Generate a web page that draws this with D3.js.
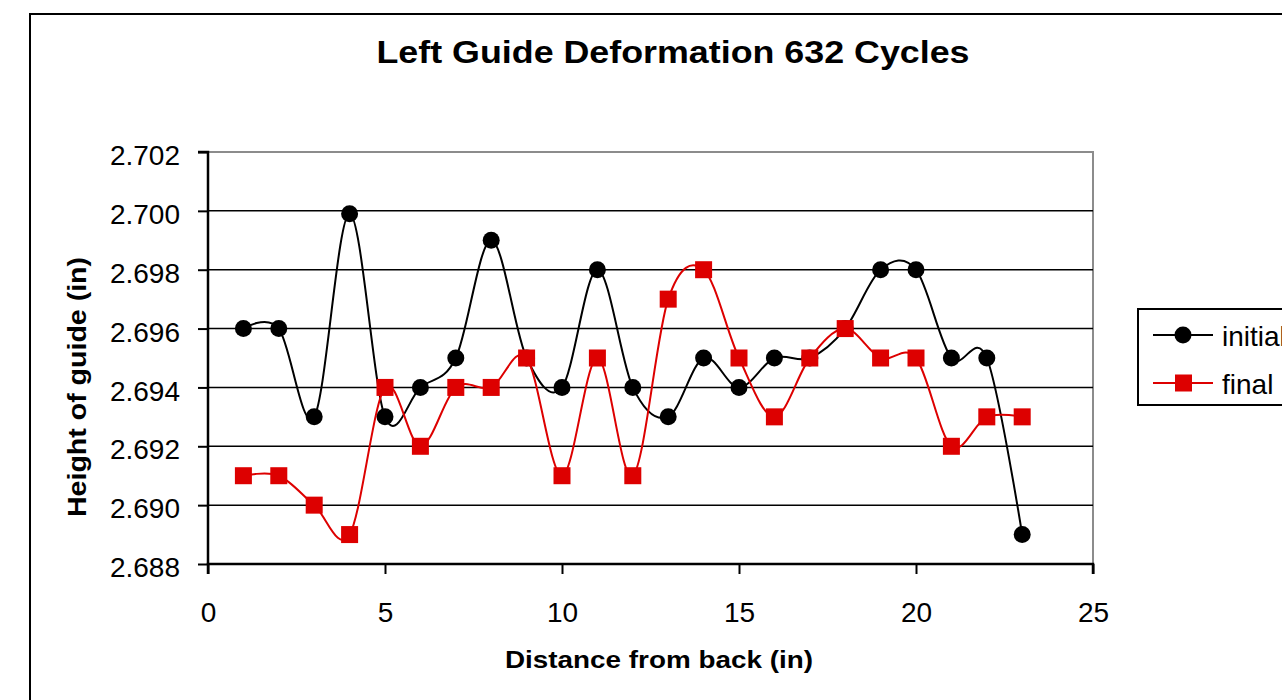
<!DOCTYPE html>
<html>
<head>
<meta charset="UTF-8">
<title>Left Guide Deformation</title>
<style>
  body { margin: 0; background: #fff; }
  svg { display: block; font-family: Arial, "Liberation Sans", sans-serif; }
</style>
</head>
<body>
<script src="https://d3js.org/d3.v7.min.js"></script>
<script>
  // distance from back (in)
  var positions = [1, 2, 3, 4, 5, 6, 7, 8, 9, 10, 11, 12, 13, 14, 15, 16, 17, 18, 19, 20, 21, 22, 23];
  var initial = [2.696, 2.696, 2.693, 2.6999, 2.693, 2.694, 2.695, 2.699, 2.695, 2.694, 2.698, 2.694,
                 2.693, 2.695, 2.694, 2.695, 2.695, 2.696, 2.698, 2.698, 2.695, 2.695, 2.689];
  var finalVals = [2.691, 2.691, 2.690, 2.689, 2.694, 2.692, 2.694, 2.694, 2.695, 2.691, 2.695, 2.691,
                   2.697, 2.698, 2.695, 2.693, 2.695, 2.696, 2.695, 2.695, 2.692, 2.693, 2.693];
  var xTicks = [0, 5, 10, 15, 20, 25];
  var yTicks = [2.688, 2.690, 2.692, 2.694, 2.696, 2.698, 2.700, 2.702];
  var seriesNames = ["initial", "final"];
  var seriesColors = ["#000000", "#dd0000"];

  var W = 1282, H = 700;
  var svg = d3.select('body').append('svg')
    .attr('width', W)
    .attr('height', H);

  // outer chart frame
  svg.append('rect')
    .attr('x', 30).attr('y', 14)
    .attr('width', 1300).attr('height', 720)
    .attr('fill', '#fff')
    .attr('stroke', '#000')
    .attr('stroke-width', 2);

  var pLeft = 208, pRight = 1093, pTop = 152, pBottom = 564;

  var x = d3.scaleLinear().domain([0, 25]).range([pLeft, pRight]);
  var y = d3.scaleLinear().domain([2.688, 2.702]).range([pBottom, pTop]);

  // plot area border (grey top/right)
  svg.append('rect')
    .attr('x', pLeft).attr('y', pTop)
    .attr('width', pRight - pLeft).attr('height', pBottom - pTop)
    .attr('fill', 'none')
    .attr('stroke', '#8c8c8c')
    .attr('stroke-width', 2);

  // gridlines
  svg.append('g')
    .selectAll('line')
    .data(yTicks.slice(1, -1))
    .enter()
    .append('line')
    .attr('x1', pLeft).attr('x2', pRight)
    .attr('y1', function(d) { return y(d); })
    .attr('y2', function(d) { return y(d); })
    .attr('stroke', '#000')
    .attr('stroke-width', 1.5);

  // axes
  var yAxis = svg.append('g')
    .attr('transform', 'translate(' + pLeft + ',0)')
    .call(d3.axisLeft(y).tickValues(yTicks).tickFormat(d3.format('.3f')).tickSize(10).tickPadding(18));
  var xAxis = svg.append('g')
    .attr('transform', 'translate(0,' + pBottom + ')')
    .call(d3.axisBottom(x).tickValues(xTicks).tickSize(10).tickPadding(28));

  [yAxis, xAxis].forEach(function(a) {
    a.select('.domain').attr('stroke', '#000').attr('stroke-width', 2.5);
    a.selectAll('.tick line').attr('stroke', '#000').attr('stroke-width', 2);
    a.selectAll('.tick text')
      .attr('fill', '#000')
      .style('font-size', '28px')
      .style('font-family', 'Arial, "Liberation Sans", sans-serif');
  });
  yAxis.select('.domain').attr('d', 'M-10,' + pTop + 'H0V' + pBottom);
  xAxis.select('.domain').attr('d', 'M' + pLeft + ',10V0H' + pRight + 'V10');
  yAxis.selectAll('.tick text').attr('dy', '0.45em');

  // series
  var line = d3.line()
    .x(function(d) { return x(d[0]); })
    .y(function(d) { return y(d[1]); })
    .curve(d3.curveCardinal.tension(0));

  var seriesData = [initial, finalVals].map(function(vals) {
    return positions.map(function(p, i) { return [p, vals[i]]; });
  });

  seriesData.forEach(function(data, s) {
    svg.append('path')
      .datum(data)
      .attr('d', line)
      .attr('fill', 'none')
      .attr('stroke', seriesColors[s])
      .attr('stroke-width', 2);
  });

  // markers
  svg.append('g')
    .selectAll('circle')
    .data(seriesData[0])
    .enter()
    .append('circle')
    .attr('cx', function(d) { return x(d[0]); })
    .attr('cy', function(d) { return y(d[1]); })
    .attr('r', 8.5)
    .attr('fill', seriesColors[0]);

  svg.append('g')
    .selectAll('rect')
    .data(seriesData[1])
    .enter()
    .append('rect')
    .attr('x', function(d) { return x(d[0]) - 8.5; })
    .attr('y', function(d) { return y(d[1]) - 8.5; })
    .attr('width', 17)
    .attr('height', 17)
    .attr('fill', seriesColors[1]);

  // title
  svg.append('text')
    .attr('x', 673).attr('y', 63)
    .attr('text-anchor', 'middle')
    .attr('textLength', 593)
    .attr('lengthAdjust', 'spacingAndGlyphs')
    .style('font-size', '32px')
    .style('font-weight', 'bold')
    .text('Left Guide Deformation 632 Cycles');

  // axis titles
  svg.append('text')
    .attr('x', 659).attr('y', 668)
    .attr('text-anchor', 'middle')
    .attr('textLength', 308)
    .attr('lengthAdjust', 'spacingAndGlyphs')
    .style('font-size', '24px')
    .style('font-weight', 'bold')
    .text('Distance from back (in)');

  svg.append('text')
    .attr('transform', 'translate(86,387) rotate(-90)')
    .attr('text-anchor', 'middle')
    .attr('textLength', 260)
    .attr('lengthAdjust', 'spacingAndGlyphs')
    .style('font-size', '25px')
    .style('font-weight', 'bold')
    .text('Height of guide (in)');

  // legend
  var legend = svg.append('g');
  legend.append('rect')
    .attr('x', 1138).attr('y', 309)
    .attr('width', 200).attr('height', 96)
    .attr('fill', '#fff')
    .attr('stroke', '#000')
    .attr('stroke-width', 2);

  seriesNames.forEach(function(name, i) {
    var ly = 335 + i * 48;
    var g = legend.append('g');
    g.append('line')
      .attr('x1', 1153).attr('x2', 1213)
      .attr('y1', ly).attr('y2', ly)
      .attr('stroke', seriesColors[i])
      .attr('stroke-width', 2);
    if (i === 0) {
      g.append('circle').attr('cx', 1183).attr('cy', ly).attr('r', 8.5).attr('fill', seriesColors[i]);
    } else {
      g.append('rect').attr('x', 1175).attr('y', ly - 8.5).attr('width', 17).attr('height', 17).attr('fill', seriesColors[i]);
    }
    g.append('text')
      .attr('x', 1222).attr('y', ly + 11)
      .style('font-size', '28px')
      .text(name);
  });
</script>
</body>
</html>
